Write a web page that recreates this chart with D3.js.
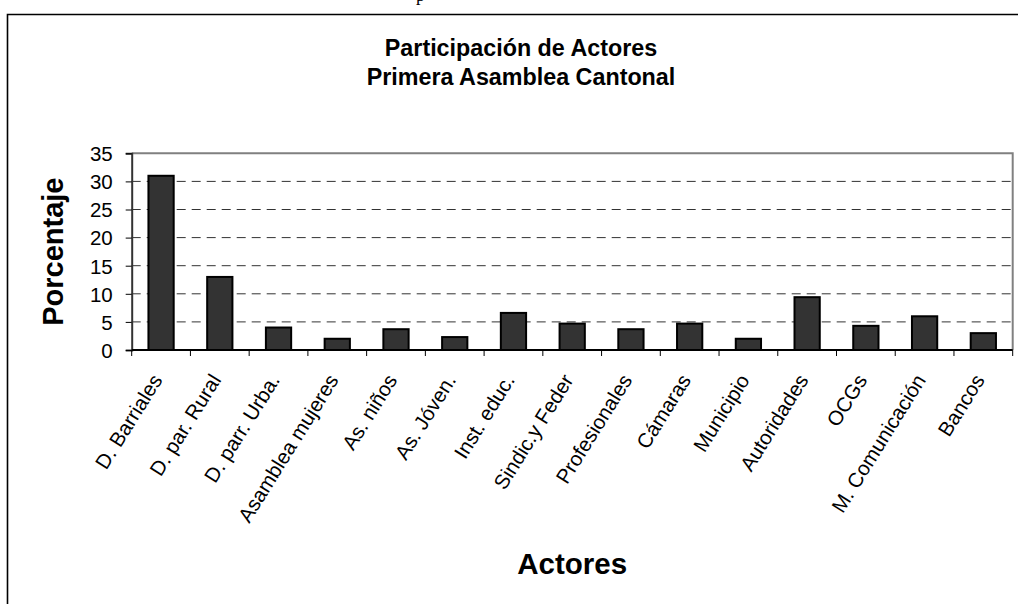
<!DOCTYPE html>
<meta charset="utf-8">
<style>
body { margin: 0; background: #fff; }
text { font-family: "Liberation Sans", Arial, sans-serif; fill: #000; }
.grid line { stroke: #333; stroke-width: 1px; stroke-dasharray: 9,6; }
.bar { fill: #333333; stroke: #000; stroke-width: 2px; }
</style>
<body>
<script src="https://d3js.org/d3.v7.min.js"></script>
<script>

// data
var actores = ["D. Barriales", "D. par. Rural", "D. parr. Urba.", "Asamblea mujeres", "As. niños",
               "As. Jóven.", "Inst. educ.", "Sindic.y Feder", "Profesionales", "Cámaras",
               "Municipio", "Autoridades", "OCGs", "M. Comunicación", "Bancos"];
var porcentaje = [31, 13, 4, 2, 3.7, 2.3, 6.6, 4.7, 3.7, 4.7, 2, 9.4, 4.3, 6, 3];
var yTicks = [0, 5, 10, 15, 20, 25, 30, 35];

var W = 1018, H = 604;
var pLeft = 131.7, pRight = 1012.7, pTop = 153.3, pBottom = 350;

var svg = d3.select("body").append("svg")
    .attr("width", W)
    .attr("height", H);

// cut-off character from the page above
svg.append("text")
    .attr("x", 416).attr("y", 1)
    .style("font-family", "'Liberation Serif', 'Times New Roman', serif")
    .style("font-size", "18px")
    .text("p");

// outer frame (top and left edges only)
svg.append("path")
    .attr("d", "M7.5," + H + "V14.5H" + W)
    .attr("fill", "none")
    .attr("stroke", "#000")
    .attr("stroke-width", 1.6);

// title
var title = svg.append("text")
    .attr("text-anchor", "middle")
    .style("font-size", "23.3px")
    .style("font-weight", "bold");
title.append("tspan").attr("x", 521).attr("y", 55.5).text("Participación de Actores");
title.append("tspan").attr("x", 521).attr("y", 84.5).text("Primera Asamblea Cantonal");

// scales
var x = d3.scaleBand().domain(actores).range([pLeft, pRight]).padding(0);
var y = d3.scaleLinear().domain([0, 35]).range([pBottom, pTop]);

// gridlines
svg.append("g")
    .attr("class", "grid")
    .selectAll("line")
    .data(yTicks.filter(function(d) { return d > 0 && d < 35; }))
    .enter().append("line")
    .attr("x1", pLeft).attr("x2", pRight)
    .attr("y1", function(d) { return y(d); })
    .attr("y2", function(d) { return y(d); });

// plot border top / right
svg.append("path")
    .attr("d", "M" + pLeft + "," + pTop + "H" + pRight + "V" + pBottom)
    .attr("fill", "none")
    .attr("stroke", "#808080")
    .attr("stroke-width", 2);

// bars
var bw = x.bandwidth() * 0.43;
svg.selectAll(".bar")
    .data(porcentaje)
    .enter().append("rect")
    .attr("class", "bar")
    .attr("x", function(d, i) { return x(actores[i]) + x.bandwidth() / 2 - bw / 2; })
    .attr("y", function(d) { return y(d); })
    .attr("width", bw)
    .attr("height", function(d) { return pBottom - y(d); });

// Y axis
var yAxis = svg.append("g")
    .attr("transform", "translate(" + pLeft + ",0)")
    .call(d3.axisLeft(y).tickValues(yTicks).tickSize(6).tickPadding(13));
yAxis.select(".domain").attr("stroke", "#333").attr("stroke-width", 2);
yAxis.selectAll(".tick line").attr("stroke", "#000");
yAxis.selectAll(".tick text")
    .style("font-family", "'Liberation Sans', Arial, sans-serif")
    .style("font-size", "20.5px")
    .attr("dy", "0.36em");

// X axis: ticks between categories
var xg = svg.append("g");
xg.append("line")
    .attr("x1", pLeft).attr("x2", pRight)
    .attr("y1", pBottom).attr("y2", pBottom)
    .attr("stroke", "#000").attr("stroke-width", 2);
var bounds = actores.map(function(d) { return x(d); }).concat([pRight]);
xg.selectAll(".xt")
    .data(bounds)
    .enter().append("line")
    .attr("x1", function(d) { return d; }).attr("x2", function(d) { return d; })
    .attr("y1", pBottom).attr("y2", pBottom + 6)
    .attr("stroke", "#000").attr("stroke-width", 1);

xg.selectAll(".xl")
    .data(actores)
    .enter().append("text")
    .attr("text-anchor", "end")
    .style("font-size", "20.5px")
    .attr("transform", function(d) {
        return "translate(" + (x(d) + x.bandwidth() / 2 + 2) + "," + (pBottom + 30) + ") rotate(-58)";
    })
    .text(function(d) { return d; });

// axis titles
svg.append("text")
    .attr("text-anchor", "middle")
    .style("font-size", "29px")
    .style("font-weight", "bold")
    .attr("transform", "translate(63," + ((pTop + pBottom) / 2) + ") rotate(-90)")
    .text("Porcentaje");

svg.append("text")
    .attr("text-anchor", "middle")
    .attr("x", (pLeft + pRight) / 2)
    .attr("y", 574)
    .style("font-size", "29.5px")
    .style("font-weight", "bold")
    .text("Actores");

</script>
</body>
